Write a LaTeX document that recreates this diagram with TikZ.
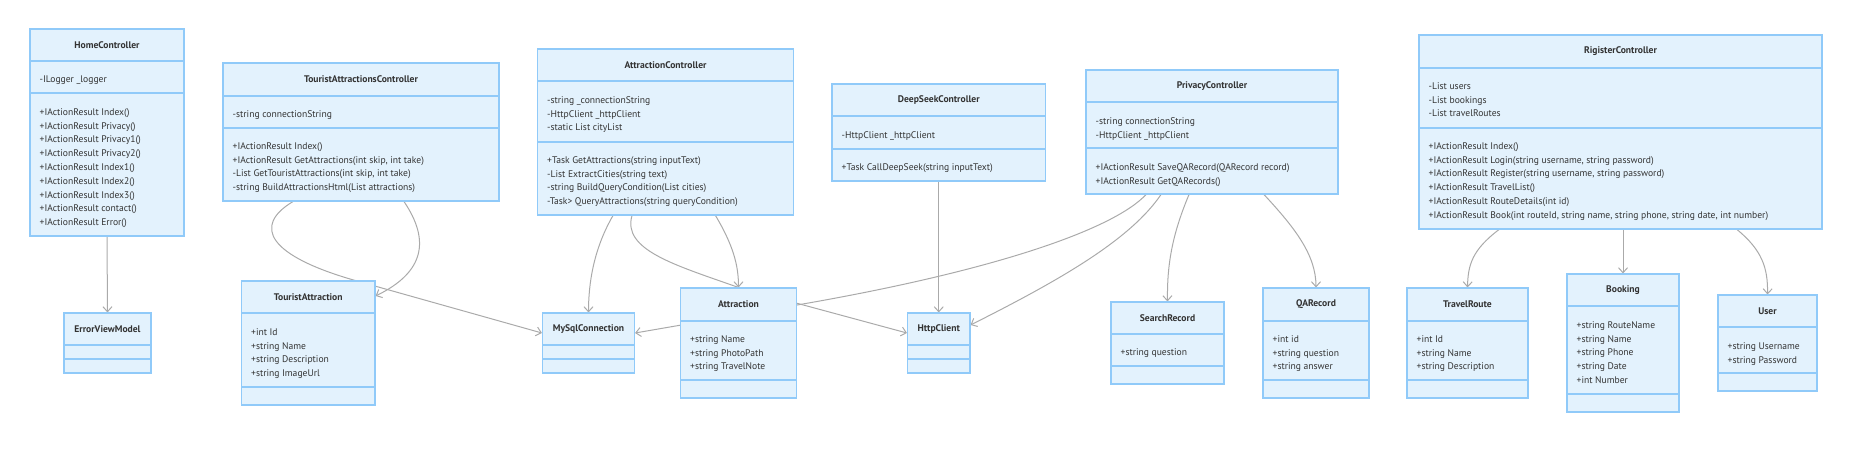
\documentclass[tikz,border=0pt]{standalone}
\usepackage{fontspec}
\setmainfont{PT Sans}
\usetikzlibrary{arrows.meta,fit,calc}
\pgfdeclarelayer{edges}
\pgfsetlayers{edges,main}
\definecolor{clsfill}{HTML}{E3F2FD}
\definecolor{clsdraw}{HTML}{90CAF9}
\definecolor{edgegray}{HTML}{AAAAAA}
\definecolor{txtgray}{HTML}{333333}

% box of a class: name, left, top, right, bottom, first line, second line, title
\newcommand{\umlclass}[8]{%
  \node[classbox, fit={(#2,#3) (#4,#5)}] (#1) {};
  \draw[classline] (#2,#6) -- (#4,#6) (#2,#7) -- (#4,#7);
  \node[classtitle] (#1-title) at ({(#2+#4)/2},{(#3+#6)/2}) {#8};
}
% members, one line each
\newcommand{\members}[4]{%
  \foreach \m [count=\i] in {#4} {
    \node[member] (#1-\i) at (#2,{#3+3.2+13.8*(\i-1)}) {\m};
  }
}

\begin{document}
\begin{tikzpicture}[x=1pt,y=-1pt,
    classbox/.style={draw=clsdraw,fill=clsfill,line width=1.1pt,inner sep=0pt},
    classline/.style={draw=clsdraw,line width=1.1pt},
    classtitle/.style={inner sep=0pt,font=\fontsize{9.6}{11}\selectfont\bfseries,text=txtgray},
    member/.style={anchor=base west,inner sep=0pt,font=\fontsize{9.6}{11}\selectfont,text=txtgray},
    assoc/.style={draw=edgegray,line width=1pt,-{Straight Barb[length=5pt,width=9pt]}}]
  \useasboundingbox (0,0) rectangle (1856,448);

  \umlclass{home}{30}{29}{184}{236}{61}{93}{HomeController}
  \members{homea}{39.5}{79}{-ILogger \_logger}
  \members{homem}{39.5}{112}{+IActionResult Index(), +IActionResult Privacy(), +IActionResult Privacy1(),
    +IActionResult Privacy2(), +IActionResult Index1(), +IActionResult Index2(), +IActionResult Index3(),
    +IActionResult contact(), +IActionResult Error()}
  \umlclass{err}{64}{313}{151}{373}{345}{359}{ErrorViewModel}

  \umlclass{tac}{223}{63}{499}{201}{96}{128}{TouristAttractionsController}
  \members{taca}{232.5}{114}{-string connectionString}
  \members{tacm}{232.5}{146}{+IActionResult Index(), {+IActionResult GetAttractions(int skip, int take)},
    {-List GetTouristAttractions(int skip, int take)}, -string BuildAttractionsHtml(List attractions)}
  \umlclass{ta}{241.5}{281}{375}{405}{313}{387}{TouristAttraction}
  \members{taa}{251}{332}{+int Id, +string Name, +string Description, +string ImageUrl}

  \umlclass{ac}{537.5}{49}{793.5}{215}{81}{142}{AttractionController}
  \members{aca}{547}{100}{-string \_connectionString, -HttpClient \_httpClient, -static List cityList}
  \members{acm}{547}{160}{+Task GetAttractions(string inputText), -List ExtractCities(string text),
    -string BuildQueryCondition(List cities), -Task> QueryAttractions(string queryCondition)}
  \umlclass{mysql}{542.5}{313}{634.5}{373}{345}{359}{MySqlConnection}
  \umlclass{attr}{680.5}{288}{796.5}{398}{321}{380}{Attraction}
  \members{attra}{690}{339}{+string Name, +string PhotoPath, +string TravelNote}

  \umlclass{ds}{832}{84}{1045.5}{181}{116}{149}{DeepSeekController}
  \members{dsa}{841.5}{135}{-HttpClient \_httpClient}
  \members{dsm}{841.5}{167}{+Task CallDeepSeek(string inputText)}
  \umlclass{http}{907.5}{313}{970}{373}{345}{359}{HttpClient}

  \umlclass{pc}{1086}{70}{1338}{194}{102}{148}{PrivacyController}
  \members{pca}{1095.5}{121}{-string connectionString, -HttpClient \_httpClient}
  \members{pcm}{1095.5}{167}{+IActionResult SaveQARecord(QARecord record), +IActionResult GetQARecords()}
  \umlclass{sr}{1111}{302}{1224}{384}{334}{366}{SearchRecord}
  \members{sra}{1120.5}{352}{+string question}
  \umlclass{qa}{1263}{288}{1369}{398}{321}{380}{QARecord}
  \members{qaa}{1272.5}{339}{+int id, +string question, +string answer}

  \umlclass{rc}{1419}{35}{1822}{229}{68}{128}{RigisterController}
  \members{rca}{1428.5}{86}{-List users, -List bookings, -List travelRoutes}
  \members{rcm}{1428.5}{146}{+IActionResult Index(), {+IActionResult Login(string username, string password)},
    {+IActionResult Register(string username, string password)}, +IActionResult TravelList(),
    +IActionResult RouteDetails(int id),
    {+IActionResult Book(int routeId, string name, string phone, string date, int number)}}
  \umlclass{tr}{1407}{288}{1528}{398}{321}{380}{TravelRoute}
  \members{tra}{1416.5}{339}{+int Id, +string Name, +string Description}
  \umlclass{book}{1567}{274}{1679}{412}{306}{394}{Booking}
  \members{booka}{1576.5}{325}{+string RouteName, +string Name, +string Phone, +string Date, +int Number}
  \umlclass{user}{1718}{295}{1817}{391}{327}{373}{User}
  \members{usera}{1727.5}{346}{+string Username, +string Password}

  \begin{pgfonlayer}{edges}
    \draw[assoc] (home.south) -- (err.north);
    \draw[assoc] (tac.south -| 293,0) .. controls (252,226) and (268,256) .. (357,281) -- (mysql.west |- 0,333);
    \draw[assoc] (tac.south -| 404,0) .. controls (430,240) and (425,272) .. (ta.east |- 0,296);
    \draw[assoc] (ac.south -| 613,0) .. controls (593,250) and (588.5,285) .. (mysql.north);
    \draw[assoc] (ac.south -| 632,0) .. controls (622,250) and (675,265) .. (attr.north) -- (http.west |- 0,333);
    \draw[assoc] (ac.south -| 715.5,0) .. controls (733,245) and (738.5,265) .. (attr.north);
    \draw[assoc] (ds.south) -- (http.north);
    \draw[assoc] (pc.south -| 1146,0) .. controls (1115,228) and (1000,270) .. (attr.east |- 0,305) -- (mysql.east |- 0,333);
    \draw[assoc] (pc.south -| 1161,0) .. controls (1130,240) and (1060,280) .. (http.east |- 0,325);
    \draw[assoc] (pc.south -| 1189,0) .. controls (1172,235) and (1167,265) .. (sr.north);
    \draw[assoc] (pc.south -| 1264,0) .. controls (1295,228) and (1316,255) .. (qa.north);
    \draw[assoc] (rc.south -| 1499,0) .. controls (1472,250) and (1468,265) .. (tr.north);
    \draw[assoc] (rc.south -| book.north) -- (book.north);
    \draw[assoc] (rc.south -| 1737,0) .. controls (1762,250) and (1768,268) .. (user.north);
  \end{pgfonlayer}
\end{tikzpicture}
\end{document}
